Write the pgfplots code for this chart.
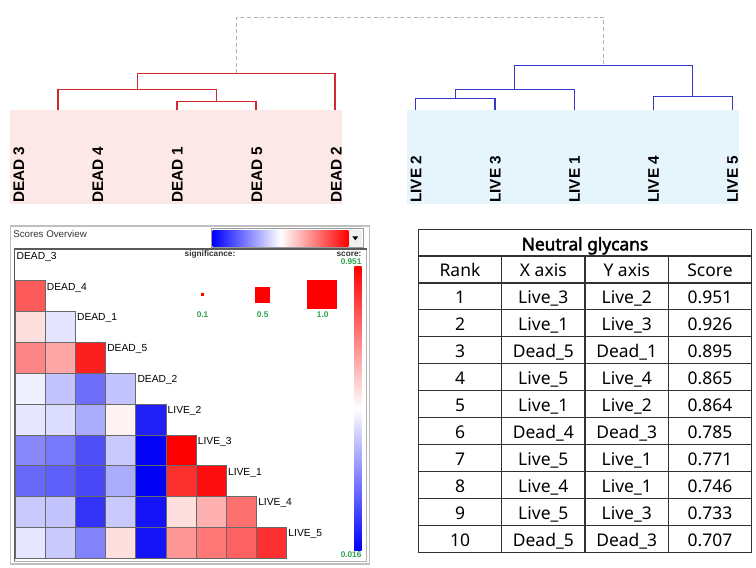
\documentclass[border=0pt]{standalone}
\usepackage{fontspec}
\setmainfont{Liberation Sans}
\newfontfamily\tabfont{Noto Sans}
\newfontfamily\tabboldfont{Noto Sans}[FakeBold=2.5]
\usepackage{pgfplots}
\usepackage{pgfplotstable}
\pgfplotsset{compat=1.18}
\definecolor{dendred}{RGB}{210,40,50}
\definecolor{dendblue}{RGB}{55,55,200}
\definecolor{pinkbg}{RGB}{253,232,232}
\definecolor{bluebg}{RGB}{230,244,252}
\definecolor{sgreen}{RGB}{45,160,70}
\definecolor{cellgray}{RGB}{105,105,105}
\definecolor{tabline}{RGB}{50,50,50}

% heatmap: column index, row index, score
\pgfplotstableread{
c r v
0 1 0.785
0 2 0.545
1 2 0.434
0 3 0.707
1 3 0.647
2 3 0.895
0 4 0.455
1 4 0.374
2 4 0.217
3 4 0.374
0 5 0.438
1 5 0.420
2 5 0.330
3 5 0.507
4 5 0.072
0 6 0.264
1 6 0.236
2 6 0.161
3 6 0.384
4 6 0.020
5 6 0.951
0 7 0.208
1 7 0.190
2 7 0.150
3 7 0.330
4 7 0.016
5 7 0.864
6 7 0.926
0 8 0.384
1 8 0.374
2 8 0.110
3 8 0.384
4 8 0.050
5 8 0.545
6 8 0.630
7 8 0.746
0 9 0.438
1 9 0.384
2 9 0.255
3 9 0.545
4 9 0.050
5 9 0.676
6 9 0.733
7 9 0.771
8 9 0.865
}\hmdata

\begin{document}
\begin{tikzpicture}
\begin{axis}[name=canvas, at={(0pt,0pt)}, anchor=north west, scale only axis,
  width=567pt, height=425.25pt, xmin=0, xmax=756, ymin=0, ymax=567,
  y dir=reverse, hide axis, clip=false]
% dendrogram backgrounds
\fill[pinkbg] (axis cs:10,110) rectangle (axis cs:342,204);
\fill[bluebg] (axis cs:407.3,110) rectangle (axis cs:739,204);
% red dendrogram
\addplot[dendred, line width=0.9pt] coordinates {(177,110) (177,101.7) (256,101.7) (256,110)};
\addplot[dendred, line width=0.9pt] coordinates {(58,110) (58,89.3) (216.5,89.3) (216.5,101.7)};
\addplot[dendred, line width=0.9pt] coordinates {(137.3,89.3) (137.3,73.3) (335,73.3) (335,110)};
% blue dendrogram
\addplot[dendblue, line width=0.9pt] coordinates {(415.7,110) (415.7,98.3) (495,98.3) (495,110)};
\addplot[dendblue, line width=0.9pt] coordinates {(455.3,98.3) (455.3,89.3) (574.3,89.3) (574.3,110)};
\addplot[dendblue, line width=0.9pt] coordinates {(653.3,110) (653.3,96.3) (732.3,96.3) (732.3,110)};
\addplot[dendblue, line width=0.9pt] coordinates {(514.8,89.3) (514.8,65.7) (692.8,65.7) (692.8,96.3)};
% top join
\addplot[black!30, densely dashed, line width=0.6pt] coordinates {(236.2,73.3) (236.2,17.3) (603.8,17.3) (603.8,65.7)};
% leaf labels
\begin{scope}[every node/.style={rotate=90, anchor=base west, inner sep=0pt, font=\bfseries\fontsize{11.5}{12}\selectfont}]
\node at (axis cs:24,203) {DEAD 3};
\node at (axis cs:103,203) {DEAD 4};
\node at (axis cs:182.5,203) {DEAD 1};
\node at (axis cs:262,203) {DEAD 5};
\node at (axis cs:341.5,203) {DEAD 2};
\node at (axis cs:421.3,203) {LIVE 2};
\node at (axis cs:500.5,203) {LIVE 3};
\node at (axis cs:579.8,203) {LIVE 1};
\node at (axis cs:658.8,203) {LIVE 4};
\node at (axis cs:737.8,203) {LIVE 5};
\end{scope}
% heatmap panel frame
\draw[black!25, line width=0.8pt] (axis cs:10.5,226) rectangle (axis cs:369.5,564);
\draw[black!30, line width=0.6pt] (axis cs:14.3,249) rectangle (axis cs:366.5,561);
\draw[black!65, line width=0.9pt] (axis cs:14.3,561) -- (axis cs:14.3,249) -- (axis cs:366.5,249);
\node[anchor=base west, inner sep=0pt, font=\fontsize{7.3}{8}\selectfont, text=black!80] at (axis cs:13,237.7) {Scores Overview};
% gradient combo box
\draw[black!40, line width=0.6pt] (axis cs:211,228.8) rectangle (axis cs:363,247.8);
\shade[left color=blue, right color=red, middle color=white] (axis cs:212.7,230) rectangle (axis cs:348.3,246.7);
\fill[black!6] (axis cs:348.8,230) rectangle (axis cs:362.2,246.7);
\fill[black] (axis cs:352.3,236.3) -- (axis cs:358.3,236.3) -- (axis cs:355.3,240.3) -- cycle;
% significance legend
\node[anchor=base, inner sep=0pt, font=\bfseries\fontsize{6.2}{7}\selectfont, text=black!80] at (axis cs:210,256) {significance:};
\node[anchor=base east, inner sep=0pt, font=\bfseries\fontsize{6.2}{7}\selectfont, text=black!80] at (axis cs:361.7,256) {score:};
\node[anchor=base east, inner sep=0pt, font=\bfseries\fontsize{6.2}{7}\selectfont, text=sgreen] at (axis cs:361.7,264.5) {0.951};
\fill[red] (axis cs:200.8,293) rectangle (axis cs:203.8,296);
\fill[red] (axis cs:255,286.7) rectangle (axis cs:270,302.7);
\fill[red] (axis cs:307.3,280) rectangle (axis cs:337.3,309.3);
\begin{scope}[every node/.style={anchor=base, inner sep=0pt, font=\bfseries\fontsize{6.2}{7}\selectfont, text=sgreen}]
\node at (axis cs:202.5,317.3) {0.1};
\node at (axis cs:262.7,317.3) {0.5};
\node at (axis cs:322.7,317.3) {1.0};
\end{scope}
% vertical colour scale
\shade[top color=red, bottom color=blue, middle color=white] (axis cs:354.3,266.7) rectangle (axis cs:361.7,550);
\node[anchor=base east, inner sep=0pt, font=\bfseries\fontsize{6.2}{7}\selectfont, text=sgreen] at (axis cs:361.7,557) {0.016};
\coordinate (hm) at (axis cs:15,249.86);
\end{axis}

% heatmap of scores
\begin{axis}[at={(hm)}, anchor=north west, scale only axis,
  width=203.8pt, height=231.3pt,
  xmin=-0.5, xmax=8.5, ymin=-0.5, ymax=9.5, y dir=reverse,
  hide axis, clip=false,
  colormap={bwr}{rgb255(0cm)=(0,0,245); rgb255(1cm)=(255,255,255); rgb255(2cm)=(252,0,0)},
  point meta min=0.016, point meta max=0.951]
\addplot[scatter, only marks, mark=square*, mark size=11.565pt,
  every mark/.append style={xscale=0.979, line width=0.55pt},
  point meta=explicit,
  scatter/use mapped color={draw=cellgray, fill=mapped color}]
  table[x=c, y=r, meta=v] {\hmdata};
\begin{scope}[every node/.style={anchor=north west, inner sep=0pt, xshift=1.1pt, yshift=-1.5pt, font=\fontsize{7.7}{8}\selectfont}]
\node at (axis cs:-0.5,-0.5) {DEAD\_3};
\node at (axis cs:0.5,0.5) {DEAD\_4};
\node at (axis cs:1.5,1.5) {DEAD\_1};
\node at (axis cs:2.5,2.5) {DEAD\_5};
\node at (axis cs:3.5,3.5) {DEAD\_2};
\node at (axis cs:4.5,4.5) {LIVE\_2};
\node at (axis cs:5.5,5.5) {LIVE\_3};
\node at (axis cs:6.5,6.5) {LIVE\_1};
\node at (axis cs:7.5,7.5) {LIVE\_4};
\node at (axis cs:8.5,8.5) {LIVE\_5};
\end{scope}
\end{axis}

% table of top scores
\begin{scope}[x=0.75pt, y=-0.75pt]
\draw[tabline, line width=0.9pt] (418.3,229.3) rectangle (751.7,552.3);
\draw[tabline, line width=0.9pt] (418.3,256) -- (751.7,256);
\foreach \k in {1,...,10} {\draw[tabline, line width=0.9pt] (418.3,{256+\k*26.94}) -- (751.7,{256+\k*26.94});}
\foreach \xx in {501.7,585,668.3} {\draw[tabline, line width=0.9pt] (\xx,256) -- (\xx,552.3);}
\node[anchor=base, inner sep=0pt, font=\tabboldfont\fontsize{13}{15}\selectfont] at (585,250.3) {Neutral glycans};
\begin{scope}[every node/.style={anchor=base, inner sep=0pt, font=\tabfont\fontsize{13.1}{15}\selectfont}]
\node at (460,276.8) {Rank};
\node at (543.3,276.8) {X axis};
\node at (626.7,276.8) {Y axis};
\node at (710,276.8) {Score};
\foreach \a/\b/\c/\d [count=\i] in {1/Live\_3/Live\_2/0.951, 2/Live\_1/Live\_3/0.926, 3/Dead\_5/Dead\_1/0.895, 4/Live\_5/Live\_4/0.865, 5/Live\_1/Live\_2/0.864, 6/Dead\_4/Dead\_3/0.785, 7/Live\_5/Live\_1/0.771, 8/Live\_4/Live\_1/0.746, 9/Live\_5/Live\_3/0.733, 10/Dead\_5/Dead\_3/0.707} {
  \pgfmathsetmacro\yy{256+\i*26.94+13.47+7.3}
  \node at (460,\yy) {\a};
  \node at (543.3,\yy) {\b};
  \node at (626.7,\yy) {\c};
  \node at (710,\yy) {\d};
}
\end{scope}
\end{scope}
\pgfresetboundingbox
\useasboundingbox (0pt,0pt) rectangle (567pt,-425.25pt);
\end{tikzpicture}
\end{document}
